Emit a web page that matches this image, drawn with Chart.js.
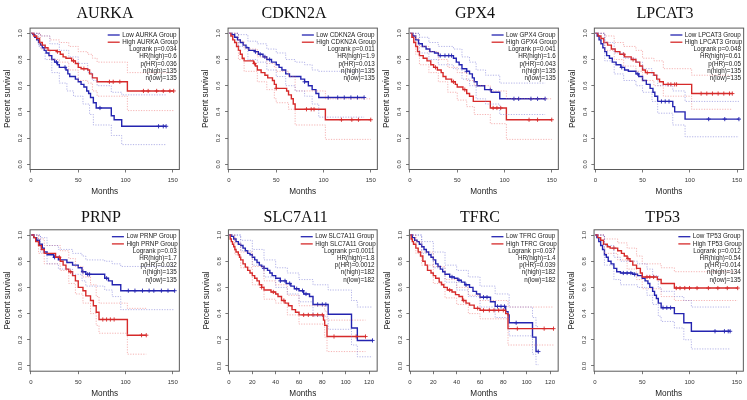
<!DOCTYPE html>
<html><head><meta charset="utf-8">
<script src="https://cdn.jsdelivr.net/npm/chart.js@4/dist/chart.umd.min.js"></script>
<style>
html,body{margin:0;padding:0;width:747px;height:400px;overflow:hidden;background:#fff;position:relative}
canvas{position:absolute}
</style></head><body>
<script>
// ---------- tick labels ----------
const xTicks150 = [0, 50, 100, 150];
const xTicks120 = [0, 20, 40, 60, 80, 100, 120];
const yTicks = [0, 0.2, 0.4, 0.6, 0.8, 1.0];
const yTickLabels = ['0.0', '0.2', '0.4', '0.6', '0.8', '1.0'];

// ---------- AURKA ----------
const AURKA_low = [[0,1],[2,0.99],[4,0.97],[6,0.95],[8,0.93],[10,0.91],[12,0.89],[14,0.87],[16,0.85],[19,0.83],[22,0.8],[25,0.78],[28,0.76],[30,0.74],[37,0.72],[39,0.69],[41,0.67],[47,0.65],[50,0.63],[53,0.61],[56,0.59],[59,0.56],[61,0.54],[63,0.51],[66,0.47],[69,0.43],[85,0.37],[88,0.34],[96,0.29],[143,0.29]];
const AURKA_high = [[0,1],[3,0.98],[6,0.96],[9,0.93],[12,0.91],[15,0.89],[18,0.87],[27,0.86],[31,0.84],[34,0.82],[37,0.81],[43,0.79],[47,0.77],[50,0.74],[53,0.73],[60,0.72],[62,0.69],[65,0.66],[70,0.63],[102,0.56],[151,0.56]];
const AURKA_lowUp = [[0,1],[10,0.98],[20,0.92],[30,0.87],[40,0.82],[50,0.77],[60,0.7],[65,0.64],[70,0.6],[85,0.55],[96,0.53],[143,0.53]];
const AURKA_lowLo = [[0,1],[8,0.9],[15,0.8],[22,0.7],[30,0.62],[38,0.56],[45,0.52],[55,0.46],[62,0.38],[66,0.3],[85,0.22],[96,0.15],[143,0.15]];
const AURKA_highUp = [[0,1],[10,0.98],[20,0.95],[30,0.93],[40,0.9],[50,0.86],[60,0.84],[65,0.81],[70,0.78],[102,0.7],[151,0.7]];
const AURKA_highLo = [[0,1],[10,0.88],[20,0.8],[30,0.78],[40,0.72],[50,0.64],[60,0.62],[65,0.56],[70,0.52],[102,0.41],[151,0.41]];
const AURKA_cLow = [27,36,73,135,140,143];
const AURKA_cHigh = [28,45,56,83,87,94,119,124,133,140,147,151];
const AURKA_stats = ['Logrank p=0.034','HR(high)=0.6','p(HR)=0.036','n(high)=135','n(low)=135'];

// ---------- CDKN2A ----------
const CDKN2A_low = [[0,1],[3,0.99],[6,0.97],[9,0.95],[12,0.93],[15,0.91],[18,0.89],[21,0.87],[27,0.86],[31,0.84],[36,0.82],[40,0.8],[45,0.78],[50,0.76],[53,0.74],[56,0.72],[60,0.69],[64,0.67],[76,0.65],[80,0.63],[84,0.6],[88,0.57],[92,0.54],[95,0.51],[143,0.51]];
const CDKN2A_high = [[0,1],[2,0.98],[4,0.95],[6,0.93],[8,0.9],[10,0.87],[12,0.84],[14,0.81],[16,0.79],[26,0.77],[28,0.75],[30,0.72],[34,0.7],[38,0.68],[41,0.66],[46,0.64],[48,0.61],[50,0.58],[61,0.56],[63,0.53],[66,0.5],[68,0.46],[70,0.42],[102,0.34],[150,0.34]];
const CDKN2A_lowUp = [[0,1],[10,0.99],[20,0.94],[30,0.92],[40,0.88],[50,0.85],[60,0.8],[70,0.78],[80,0.76],[88,0.72],[95,0.71],[143,0.71]];
const CDKN2A_lowLo = [[0,1],[10,0.9],[20,0.8],[30,0.78],[40,0.72],[50,0.67],[60,0.6],[70,0.56],[80,0.52],[88,0.46],[95,0.36],[143,0.36]];
const CDKN2A_highUp = [[0,1],[10,0.94],[16,0.88],[30,0.82],[40,0.77],[48,0.74],[50,0.71],[63,0.67],[70,0.56],[102,0.5],[150,0.5]];
const CDKN2A_highLo = [[0,1],[10,0.8],[16,0.71],[30,0.63],[40,0.57],[48,0.5],[50,0.47],[63,0.42],[70,0.3],[102,0.19],[150,0.19]];
const CDKN2A_cLow = [28,33,38,43,80,105,115,122,129,136,143];
const CDKN2A_cHigh = [27,50,82,87,90,119,130,137,150];
const CDKN2A_stats = ['Logrank p=0.011','HR(high)=1.9','p(HR)=0.013','n(high)=135','n(low)=135'];

// ---------- GPX4 ----------
const GPX4_low = [[0,1],[3,0.98],[6,0.95],[9,0.92],[13,0.9],[17,0.88],[21,0.86],[26,0.85],[30,0.83],[46,0.81],[49,0.78],[52,0.76],[55,0.73],[60,0.71],[63,0.69],[66,0.66],[68,0.63],[71,0.6],[79,0.57],[86,0.55],[95,0.5],[143,0.5]];
const GPX4_high = [[0,1],[2,0.97],[4,0.93],[6,0.9],[8,0.86],[10,0.83],[14,0.81],[18,0.79],[22,0.76],[25,0.74],[29,0.72],[33,0.7],[35,0.67],[38,0.65],[44,0.63],[48,0.61],[50,0.59],[56,0.57],[60,0.54],[63,0.52],[67,0.48],[85,0.43],[102,0.34],[150,0.34]];
const GPX4_lowUp = [[0,1],[10,0.97],[20,0.93],[30,0.9],[46,0.88],[55,0.82],[63,0.78],[70,0.72],[80,0.68],[95,0.62],[143,0.62]];
const GPX4_lowLo = [[0,1],[10,0.85],[20,0.8],[30,0.76],[46,0.73],[55,0.65],[63,0.6],[70,0.5],[80,0.46],[95,0.38],[143,0.38]];
const GPX4_highUp = [[0,1],[6,0.96],[10,0.9],[20,0.86],[30,0.8],[40,0.74],[50,0.7],[60,0.64],[68,0.6],[85,0.56],[102,0.5],[150,0.5]];
const GPX4_highLo = [[0,1],[6,0.84],[10,0.76],[20,0.7],[30,0.63],[40,0.55],[50,0.49],[60,0.44],[68,0.38],[85,0.31],[102,0.19],[150,0.19]];
const GPX4_cLow = [32,37,41,44,60,85,110,115,128,135,143];
const GPX4_cHigh = [27,46,58,88,92,96,126,135,150];
const GPX4_stats = ['Logrank p=0.041','HR(high)=1.6','p(HR)=0.043','n(high)=135','n(low)=135'];

// ---------- LPCAT3 ----------
const LPCAT3_low = [[0,1],[2,0.98],[4,0.95],[6,0.92],[8,0.89],[10,0.86],[12,0.83],[15,0.81],[18,0.78],[22,0.76],[27,0.74],[31,0.72],[35,0.71],[43,0.69],[46,0.67],[50,0.64],[54,0.61],[58,0.58],[61,0.55],[63,0.52],[66,0.48],[82,0.44],[84,0.4],[95,0.345],[152,0.345]];
const LPCAT3_high = [[0,1],[3,0.98],[6,0.96],[9,0.93],[13,0.91],[17,0.88],[21,0.86],[26,0.84],[31,0.82],[38,0.8],[43,0.78],[47,0.75],[50,0.72],[53,0.7],[62,0.68],[65,0.65],[68,0.63],[72,0.61],[102,0.54],[145,0.54]];
const LPCAT3_lowUp = [[0,1],[10,0.93],[20,0.85],[30,0.81],[43,0.78],[50,0.73],[60,0.68],[66,0.6],[82,0.56],[95,0.48],[152,0.48]];
const LPCAT3_lowLo = [[0,1],[10,0.79],[20,0.69],[30,0.64],[43,0.6],[50,0.55],[60,0.48],[66,0.39],[82,0.3],[95,0.21],[152,0.21]];
const LPCAT3_highUp = [[0,1],[10,0.98],[20,0.93],[30,0.9],[43,0.87],[50,0.81],[62,0.79],[72,0.73],[102,0.68],[145,0.68]];
const LPCAT3_highLo = [[0,1],[10,0.87],[20,0.8],[30,0.75],[43,0.71],[50,0.64],[62,0.6],[72,0.52],[102,0.42],[145,0.42]];
const LPCAT3_cLow = [28,45,70,74,78,120,137,152];
const LPCAT3_cHigh = [30,40,55,77,80,84,86,112,118,124,130,136,142,145];
const LPCAT3_stats = ['Logrank p=0.048','HR(high)=0.61','p(HR)=0.05','n(high)=135','n(low)=135'];

// ---------- PRNP ----------
const PRNP_low = [[0,1],[3,0.98],[6,0.96],[9,0.93],[12,0.9],[14,0.87],[17,0.85],[24,0.83],[29,0.81],[38,0.79],[44,0.77],[50,0.75],[54,0.72],[58,0.7],[78,0.67],[82,0.65],[86,0.62],[95,0.575],[152,0.575]];
const PRNP_high = [[0,1],[3,0.98],[5,0.95],[8,0.92],[11,0.89],[14,0.86],[26,0.83],[31,0.8],[34,0.77],[37,0.74],[40,0.72],[44,0.69],[47,0.65],[50,0.6],[55,0.575],[58,0.535],[63,0.5],[66,0.46],[69,0.41],[72,0.355],[102,0.235],[122,0.235]];
const PRNP_lowUp = [[0,1],[10,0.98],[17,0.92],[29,0.89],[44,0.86],[54,0.84],[58,0.81],[78,0.8],[86,0.78],[95,0.76],[152,0.76]];
const PRNP_lowLo = [[0,1],[10,0.87],[17,0.78],[29,0.74],[44,0.7],[54,0.65],[58,0.61],[78,0.58],[86,0.53],[95,0.43],[152,0.43]];
const PRNP_highUp = [[0,1],[8,0.97],[14,0.92],[31,0.88],[40,0.82],[47,0.76],[55,0.68],[63,0.62],[69,0.53],[72,0.48],[102,0.44],[122,0.44]];
const PRNP_highLo = [[0,1],[8,0.86],[14,0.78],[31,0.73],[40,0.63],[47,0.55],[55,0.48],[63,0.4],[69,0.31],[72,0.25],[102,0.09],[122,0.09]];
const PRNP_cLow = [25,55,60,62,80,103,110,118,125,130,138,145,152];
const PRNP_cHigh = [30,42,76,80,84,88,117,122];
const PRNP_stats = ['Logrank p=0.03','HR(high)=1.7','p(HR)=0.032','n(high)=135','n(low)=135'];

// ---------- SLC7A11 ----------
const SLC7A11_low = [[0,1],[2,0.99],[4,0.97],[6,0.95],[8,0.93],[10,0.92],[12,0.9],[14,0.88],[16,0.86],[18,0.85],[20,0.83],[22,0.81],[24,0.79],[26,0.77],[28,0.76],[30,0.745],[33,0.73],[35,0.71],[37,0.69],[40,0.67],[44,0.65],[49,0.63],[53,0.61],[56,0.59],[60,0.575],[64,0.55],[69,0.53],[72,0.47],[85,0.395],[105,0.29],[110,0.195],[123,0.195]];
const SLC7A11_high = [[0,1],[1,0.97],[2,0.95],[3,0.93],[4,0.91],[5,0.89],[6,0.87],[8,0.85],[9,0.83],[10,0.81],[12,0.78],[14,0.755],[16,0.73],[18,0.71],[20,0.69],[22,0.67],[24,0.65],[26,0.62],[28,0.6],[30,0.58],[36,0.565],[40,0.55],[42,0.53],[45,0.5],[48,0.48],[51,0.46],[54,0.43],[57,0.41],[60,0.39],[81,0.35],[82,0.31],[84,0.225],[117,0.225]];
const SLC7A11_lowUp = [[0,1],[10,0.96],[20,0.89],[30,0.81],[40,0.75],[50,0.71],[60,0.66],[72,0.62],[85,0.58],[105,0.5],[110,0.45],[123,0.45]];
const SLC7A11_lowLo = [[0,1],[10,0.88],[20,0.77],[30,0.68],[40,0.6],[50,0.55],[60,0.49],[72,0.38],[85,0.28],[105,0.16],[110,0.07],[123,0.07]];
const SLC7A11_highUp = [[0,1],[5,0.94],[10,0.87],[20,0.76],[30,0.65],[40,0.62],[50,0.54],[60,0.46],[82,0.42],[84,0.35],[117,0.35]];
const SLC7A11_highLo = [[0,1],[5,0.85],[10,0.75],[20,0.62],[30,0.51],[40,0.48],[50,0.39],[60,0.32],[82,0.22],[84,0.11],[117,0.11]];
const SLC7A11_cLow = [30,44,48,52,58,63,66,76,80,83,123];
const SLC7A11_cHigh = [28,38,47,64,68,72,76,80,90,109,117];
const SLC7A11_stats = ['Logrank p=0.0011','HR(high)=1.8','p(HR)=0.0012','n(high)=182','n(low)=182'];

// ---------- TFRC ----------
const TFRC_low = [[0,1],[2,0.98],[4,0.96],[6,0.95],[8,0.93],[10,0.91],[12,0.89],[14,0.87],[16,0.85],[18,0.83],[20,0.81],[22,0.78],[24,0.76],[26,0.74],[28,0.72],[30,0.7],[34,0.68],[38,0.67],[41,0.655],[44,0.64],[47,0.62],[51,0.6],[54,0.57],[57,0.55],[60,0.525],[69,0.49],[73,0.455],[82,0.415],[84,0.39],[85,0.33],[105,0.22],[108,0.11],[110,0.11]];
const TFRC_high = [[0,1],[1,0.97],[2,0.95],[3,0.93],[5,0.9],[7,0.87],[9,0.84],[11,0.8],[13,0.77],[15,0.73],[18,0.71],[20,0.69],[22,0.67],[25,0.64],[27,0.62],[29,0.6],[32,0.58],[36,0.565],[39,0.545],[42,0.53],[45,0.5],[48,0.48],[51,0.465],[55,0.44],[60,0.425],[82,0.4],[84,0.285],[123,0.285]];
const TFRC_lowUp = [[0,1],[10,0.95],[20,0.87],[30,0.77],[40,0.73],[50,0.68],[60,0.61],[73,0.55],[85,0.45],[105,0.37],[108,0.3],[110,0.3]];
const TFRC_lowLo = [[0,1],[10,0.86],[20,0.75],[30,0.64],[40,0.58],[50,0.53],[60,0.45],[73,0.37],[85,0.23],[105,0.09],[108,0.01],[110,0.01]];
const TFRC_highUp = [[0,1],[5,0.95],[10,0.87],[20,0.76],[30,0.66],[40,0.6],[50,0.54],[60,0.5],[84,0.45],[123,0.45]];
const TFRC_highLo = [[0,1],[5,0.86],[10,0.77],[20,0.63],[30,0.52],[40,0.47],[50,0.4],[60,0.36],[84,0.16],[123,0.16]];
const TFRC_cLow = [36,42,48,63,66,75,78,81,91,110];
const TFRC_cHigh = [34,46,58,63,68,72,76,80,92,115,123];
const TFRC_stats = ['Logrank p=0.037','HR(high)=1.4','p(HR)=0.039','n(high)=182','n(low)=182'];

// ---------- TP53 ----------
const TP53_low = [[0,1],[2,0.98],[4,0.95],[6,0.92],[8,0.89],[10,0.85],[12,0.83],[14,0.8],[17,0.78],[20,0.745],[23,0.72],[27,0.71],[40,0.7],[45,0.69],[50,0.67],[53,0.65],[56,0.63],[58,0.6],[61,0.57],[63,0.54],[65,0.515],[67,0.48],[70,0.445],[84,0.4],[94,0.33],[102,0.265],[143,0.265]];
const TP53_high = [[0,1],[3,0.98],[6,0.96],[9,0.93],[13,0.91],[16,0.9],[24,0.88],[28,0.86],[31,0.84],[34,0.82],[37,0.8],[40,0.77],[44,0.745],[48,0.71],[50,0.68],[66,0.66],[70,0.63],[84,0.595],[151,0.595]];
const TP53_lowUp = [[0,1],[10,0.92],[20,0.83],[27,0.8],[45,0.78],[55,0.74],[61,0.69],[67,0.6],[70,0.57],[84,0.53],[94,0.5],[102,0.45],[143,0.45]];
const TP53_lowLo = [[0,1],[10,0.77],[20,0.66],[27,0.62],[45,0.6],[55,0.54],[61,0.47],[67,0.38],[70,0.34],[84,0.29],[94,0.2],[102,0.13],[143,0.13]];
const TP53_highUp = [[0,1],[10,0.97],[24,0.94],[34,0.9],[44,0.84],[50,0.78],[70,0.75],[84,0.72],[151,0.72]];
const TP53_highLo = [[0,1],[10,0.86],[24,0.81],[34,0.74],[44,0.66],[50,0.59],[70,0.53],[84,0.5],[151,0.5]];
const TP53_cLow = [30,34,38,42,72,76,80,127,137,141,143];
const TP53_cHigh = [20,35,55,58,62,86,90,95,100,108,120,130,140,151];
const TP53_stats = ['Logrank p=0.012','HR(high)=0.54','p(HR)=0.014','n(high)=134','n(low)=135'];

// ---------- panel table (built from the arrays above) ----------
const PANELS = [
  ['AURKA', AURKA_low, AURKA_high, AURKA_lowUp, AURKA_lowLo, AURKA_highUp, AURKA_highLo, AURKA_cLow, AURKA_cHigh, AURKA_stats],
  ['CDKN2A', CDKN2A_low, CDKN2A_high, CDKN2A_lowUp, CDKN2A_lowLo, CDKN2A_highUp, CDKN2A_highLo, CDKN2A_cLow, CDKN2A_cHigh, CDKN2A_stats],
  ['GPX4', GPX4_low, GPX4_high, GPX4_lowUp, GPX4_lowLo, GPX4_highUp, GPX4_highLo, GPX4_cLow, GPX4_cHigh, GPX4_stats],
  ['LPCAT3', LPCAT3_low, LPCAT3_high, LPCAT3_lowUp, LPCAT3_lowLo, LPCAT3_highUp, LPCAT3_highLo, LPCAT3_cLow, LPCAT3_cHigh, LPCAT3_stats],
  ['PRNP', PRNP_low, PRNP_high, PRNP_lowUp, PRNP_lowLo, PRNP_highUp, PRNP_highLo, PRNP_cLow, PRNP_cHigh, PRNP_stats],
  ['SLC7A11', SLC7A11_low, SLC7A11_high, SLC7A11_lowUp, SLC7A11_lowLo, SLC7A11_highUp, SLC7A11_highLo, SLC7A11_cLow, SLC7A11_cHigh, SLC7A11_stats],
  ['TFRC', TFRC_low, TFRC_high, TFRC_lowUp, TFRC_lowLo, TFRC_highUp, TFRC_highLo, TFRC_cLow, TFRC_cHigh, TFRC_stats],
  ['TP53', TP53_low, TP53_high, TP53_lowUp, TP53_lowLo, TP53_highUp, TP53_highLo, TP53_cLow, TP53_cHigh, TP53_stats]
];

// layout (page pixels) of each plot box and title
const BOXES = [
  {x:30.05, y:28.1, w:149.3, h:141.4, xmin:-1, xmax:157, ticks:xTicks150, tx:105, ty:18.4, row:0},
  {x:228.05, y:28.1, w:149.3, h:141.4, xmin:-1, xmax:157, ticks:xTicks150, tx:294, ty:18.4, row:0},
  {x:409.05, y:28.1, w:149.3, h:141.4, xmin:-1, xmax:157, ticks:xTicks150, tx:475, ty:18.4, row:0},
  {x:594.35, y:28.1, w:149.3, h:141.4, xmin:-1, xmax:157, ticks:xTicks150, tx:665, ty:18.4, row:0},
  {x:30.05, y:229.8, w:149.3, h:141.4, xmin:-1, xmax:157, ticks:xTicks150, tx:101, ty:221.6, row:1},
  {x:228.42, y:229.8, w:148.75, h:141.4, xmin:-0.5, xmax:127, ticks:xTicks120, tx:295.7, ty:221.6, row:1},
  {x:409.42, y:229.8, w:148.75, h:141.4, xmin:-0.5, xmax:127, ticks:xTicks120, tx:480, ty:221.6, row:1},
  {x:594.05, y:229.8, w:149.3, h:141.4, xmin:-1, xmax:157, ticks:xTicks150, tx:662.7, ty:221.6, row:1}
];

const BLUE = '#2424b0', RED = '#d62a2a';
const BLUE_CI = 'rgba(110,110,210,0.65)', RED_CI = 'rgba(235,110,110,0.65)';
const SANS = '"Liberation Sans", Arial, sans-serif';
const SERIF = '"Liberation Serif", "Times New Roman", serif';

function toXY(curve){ return curve.map(p => ({x:p[0], y:p[1]})); }
function survAt(curve, t){ let s = curve[0][1]; for (const p of curve){ if (p[0] <= t) s = p[1]; else break; } return s; }

const deco = {
  id: 'deco',
  afterDraw(chart){
    const o = chart.options.plugins.deco;
    const {ctx, chartArea:a} = chart;
    ctx.save();
    ctx.strokeStyle = '#5a5a5a'; ctx.lineWidth = 1;
    ctx.strokeRect(a.left, a.top, a.right - a.left, a.bottom - a.top);
    // rotated y tick labels (R style)
    const ys = chart.scales.y;
    ctx.fillStyle = '#333'; ctx.font = '6px ' + SANS; ctx.textAlign = 'center'; ctx.textBaseline = 'middle';
    yTicks.forEach((v, i) => {
      ctx.save(); ctx.translate(a.left - 9.3, ys.getPixelForValue(v)); ctx.rotate(-Math.PI/2);
      ctx.fillText(yTickLabels[i], 0, 0); ctx.restore();
    });
    // title
    ctx.font = '16px ' + SERIF; ctx.fillStyle = '#111'; ctx.textBaseline = 'alphabetic';
    ctx.fillText(o.gene, o.tx, o.ty);
    // legend
    ctx.font = '6.3px ' + SANS; ctx.textBaseline = 'middle'; ctx.textAlign = 'left'; ctx.fillStyle = '#1a1a1a';
    const labels = ['Low ' + o.gene + ' Group', 'High ' + o.gene + ' Group'];
    const maxW = Math.max(...labels.map(s => ctx.measureText(s).width));
    const tx = a.right - 1.5 - maxW;
    labels.forEach((s, i) => {
      const y = a.top + 6.9 + i * 7.2;
      ctx.strokeStyle = i ? RED : BLUE; ctx.lineWidth = 1.3;
      ctx.beginPath(); ctx.moveTo(tx - 14.5, y); ctx.lineTo(tx - 2.5, y); ctx.stroke();
      ctx.fillText(s, tx, y);
    });
    ctx.textAlign = 'right';
    o.stats.forEach((s, i) => ctx.fillText(s, a.right - 2.6, a.top + 6.9 + (i + 2) * 7.2));
    ctx.restore();
  }
};

function build(idx){
  const [gene, low, high, lowUp, lowLo, highUp, highLo, cLow, cHigh, stats] = PANELS[idx];
  const B = BOXES[idx];
  const rowTop = B.row * 200;
  const cl = Math.floor(B.x - 31);
  const yw = B.x - cl;
  const W = Math.ceil(yw + B.w + 10);
  const padR = W - yw - B.w;
  const topRel = B.y - rowTop, botRel = B.y + B.h - rowTop;
  const XH = 30;
  const H = Math.ceil(botRel + XH + 1);
  const padB = H - XH - botRel;
  const cv = document.createElement('canvas');
  cv.width = W; cv.height = H;
  cv.style.left = cl + 'px'; cv.style.top = rowTop + 'px';
  document.body.appendChild(cv);

  const ci = (d, c) => ({data: toXY(d), stepped: true, borderColor: c, borderWidth: 0.8, borderDash: [1.2, 1.4], pointRadius: 0, fill: false});
  const main = (d, c) => ({data: toXY(d), stepped: true, borderColor: c, borderWidth: 1.4, pointRadius: 0, fill: false});
  const cens = (ts, curve, c) => ({data: ts.map(t => ({x: t, y: survAt(curve, t)})), showLine: false, pointStyle: 'cross', pointRadius: 2.1, pointBorderColor: c, pointBorderWidth: 0.9, borderColor: c});

  const datasets = [
    ci(lowUp, BLUE_CI), ci(lowLo, BLUE_CI), ci(highUp, RED_CI), ci(highLo, RED_CI),
    main(high, RED), main(low, BLUE),
    cens(cHigh, high, RED), cens(cLow, low, BLUE)
  ];
  const gridOpts = {display: true, drawOnChartArea: false, drawTicks: true, tickLength: 3, tickColor: '#555', color: '#555', lineWidth: 0.8};

  new Chart(cv, {
    type: 'line',
    data: {datasets},
    options: {
      responsive: false, animation: false, events: [],
      layout: {padding: {left: 0, right: padR, top: topRel, bottom: padB}},
      scales: {
        x: {
          type: 'linear', min: B.xmin, max: B.xmax,
          afterBuildTicks: s => { s.ticks = B.ticks.map(v => ({value: v})); },
          afterFit: s => { s.height = XH; },
          grid: gridOpts, border: {display: false},
          ticks: {font: {family: SANS, size: 6}, color: '#333', padding: 4.6, maxRotation: 0, minRotation: 0, autoSkip: false},
          title: {display: true, text: 'Months', font: {family: SANS, size: 8.2}, color: '#222', padding: {top: 0, bottom: 2.8}}
        },
        y: {
          type: 'linear', min: -0.04, max: 1.04,
          afterBuildTicks: s => { s.ticks = yTicks.map(v => ({value: v})); },
          afterFit: s => { s.width = yw; },
          grid: gridOpts, border: {display: false},
          ticks: {display: false},
          title: {display: true, text: 'Percent survival', font: {family: SANS, size: 8.2}, color: '#222', padding: {top: yw - 22 - 4.9, bottom: 0}}
        }
      },
      plugins: {
        legend: {display: false}, tooltip: {enabled: false},
        deco: {gene, stats, tx: B.tx - cl, ty: B.ty - rowTop}
      }
    },
    plugins: [deco]
  });
}

for (let i = 0; i < PANELS.length; i++) build(i);
</script>
</body></html>
